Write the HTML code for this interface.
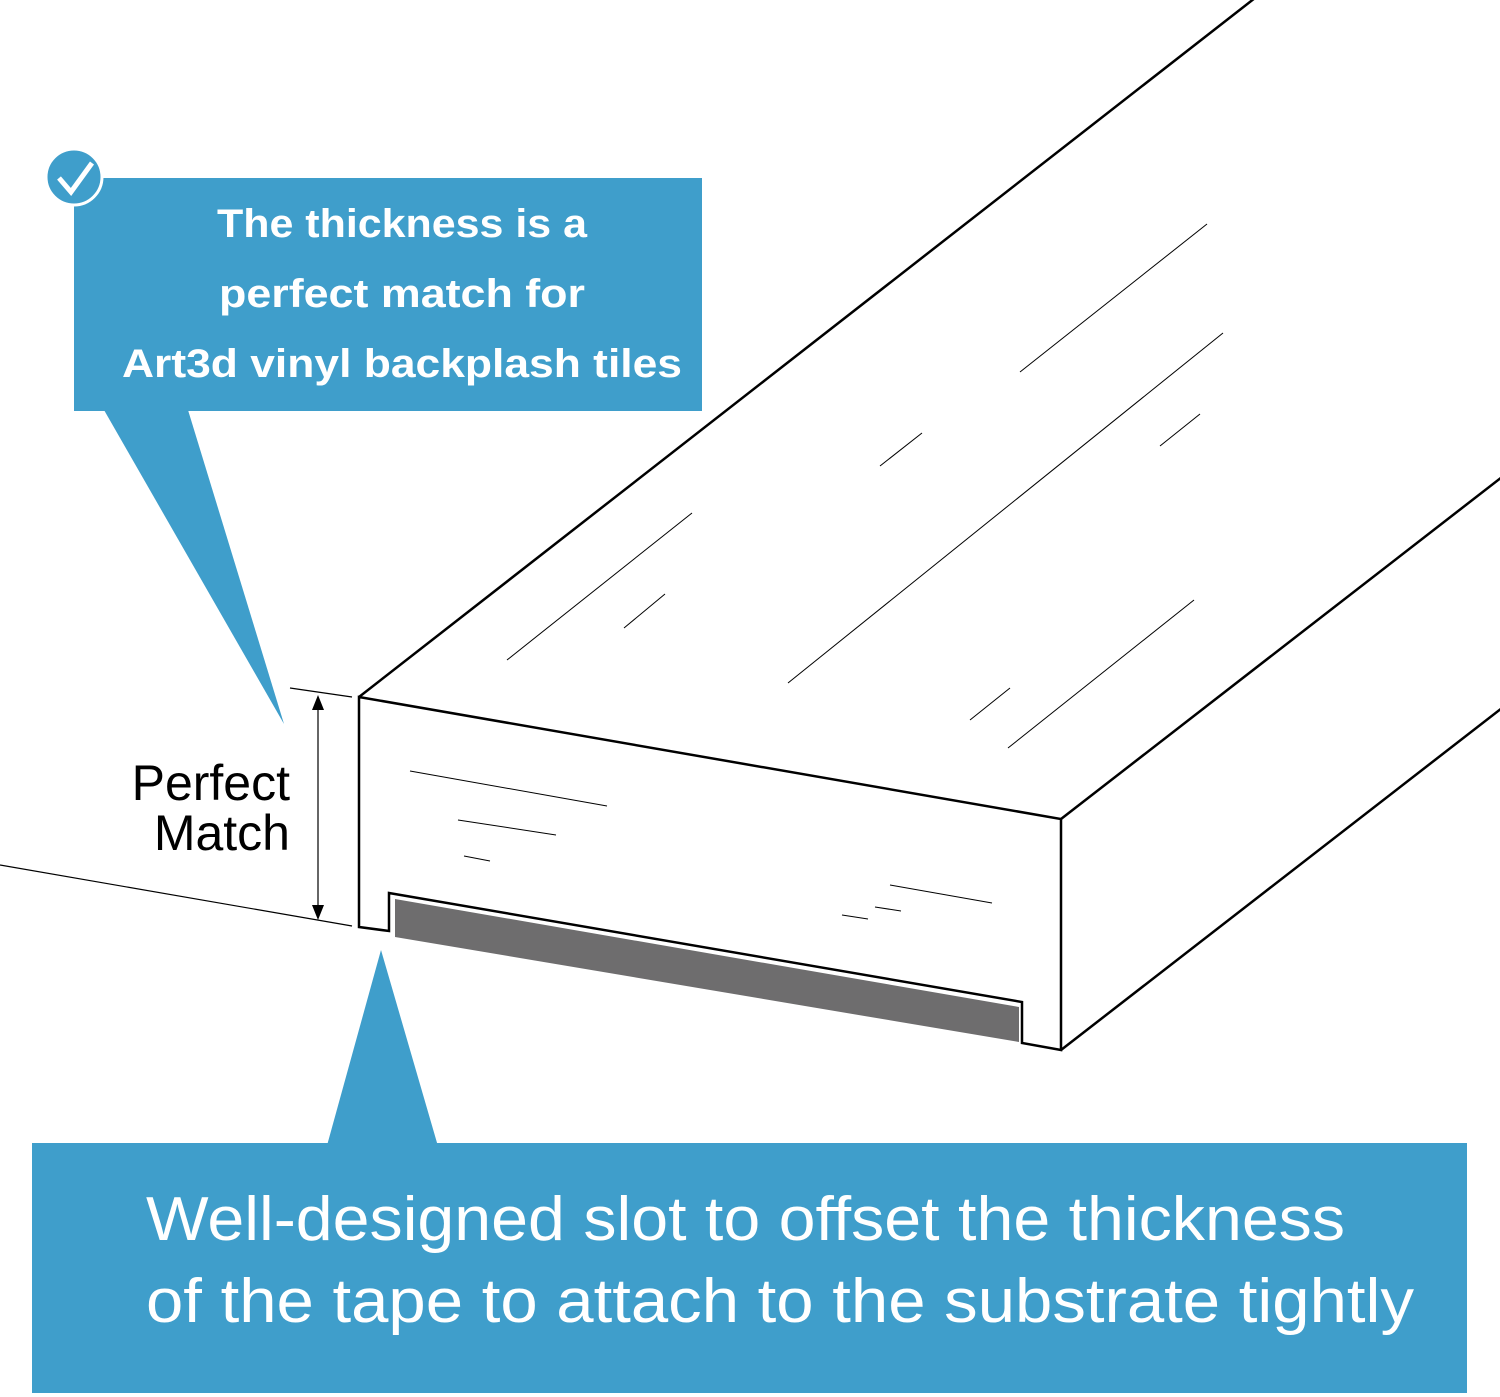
<!DOCTYPE html>
<html><head><meta charset="utf-8"><style>html,body{margin:0;padding:0;background:#fff}svg{display:block}</style></head>
<body>
<svg width="1500" height="1397" viewBox="0 0 1500 1397" xmlns="http://www.w3.org/2000/svg" font-family="Liberation Sans, sans-serif">
<rect width="1500" height="1397" fill="#fff"/>
<g stroke="#000" stroke-width="1.2" fill="none">
<line x1="0" y1="865" x2="352" y2="926"/>
<line x1="290" y1="688" x2="352" y2="697"/>
<line x1="318" y1="705" x2="318" y2="912"/>
</g>
<polygon points="318,695 312,710 324,710" fill="#000"/>
<polygon points="318,920 312,905 324,905" fill="#000"/>
<!-- board -->
<g stroke="#000" stroke-width="2.5" fill="none" stroke-linejoin="miter">
<line x1="359" y1="697" x2="1255" y2="-2"/>
<line x1="1061" y1="819" x2="1502" y2="477"/>
<line x1="1061" y1="1050" x2="1502" y2="708"/>
<path d="M359,697 L1061,819 L1061,1050 L1022,1043 L1022,1002 L389,893 L389,931 L359,927 Z" fill="#fff"/>
</g>
<polygon points="395,899 1019,1007 1019,1042 395,937" fill="#6e6d6e"/>
<g stroke="#000" stroke-width="1" fill="none">
<line x1="507" y1="660" x2="692" y2="513"/>
<line x1="624" y1="628" x2="665" y2="594"/>
<line x1="1020" y1="372" x2="1207" y2="224"/>
<line x1="880" y1="466" x2="922" y2="433"/>
<line x1="788" y1="683" x2="1223" y2="333"/>
<line x1="1160" y1="446" x2="1200" y2="414"/>
<line x1="970" y1="720" x2="1010" y2="688"/>
<line x1="1008" y1="748" x2="1194" y2="600"/>
<line x1="410" y1="771" x2="607" y2="806"/>
<line x1="458" y1="820" x2="556" y2="835"/>
<line x1="464" y1="856" x2="490" y2="861"/>
<line x1="890" y1="885" x2="992" y2="903"/>
<line x1="875" y1="907" x2="901" y2="911"/>
<line x1="842" y1="915" x2="868" y2="919"/>
</g>
<text x="290" y="800" font-size="50" text-anchor="end" fill="#000">Perfect</text>
<text x="290" y="850" font-size="50" text-anchor="end" fill="#000">Match</text>
<polygon points="104,410 188,410 284,724" fill="#3f9ecb"/>
<rect x="74" y="178" width="628" height="233" fill="#3f9ecb"/>
<circle cx="74" cy="177" r="28" fill="#3f9ecb" stroke="#fff" stroke-width="3"/>
<polyline points="59,178 71,192 92,163" fill="none" stroke="#fff" stroke-width="5"/>
<g fill="#fff" font-size="40" text-anchor="middle" font-weight="bold">
<text x="402" y="237" textLength="370" lengthAdjust="spacingAndGlyphs">The thickness is a</text>
<text x="402" y="307" textLength="366" lengthAdjust="spacingAndGlyphs">perfect match for</text>
<text x="402" y="377" textLength="560" lengthAdjust="spacingAndGlyphs">Art3d vinyl backplash tiles</text>
</g>
<polygon points="323,1160 442,1160 381,950" fill="#3f9ecb"/>
<rect x="32" y="1143" width="1435" height="250" fill="#3f9ecb"/>
<g fill="#fff" font-size="62">
<text x="146" y="1240" textLength="1199" lengthAdjust="spacingAndGlyphs">Well-designed slot to offset the thickness</text>
<text x="146" y="1322" textLength="1268" lengthAdjust="spacingAndGlyphs">of the tape to attach to the substrate tightly</text>
</g>
</svg>
</body></html>
